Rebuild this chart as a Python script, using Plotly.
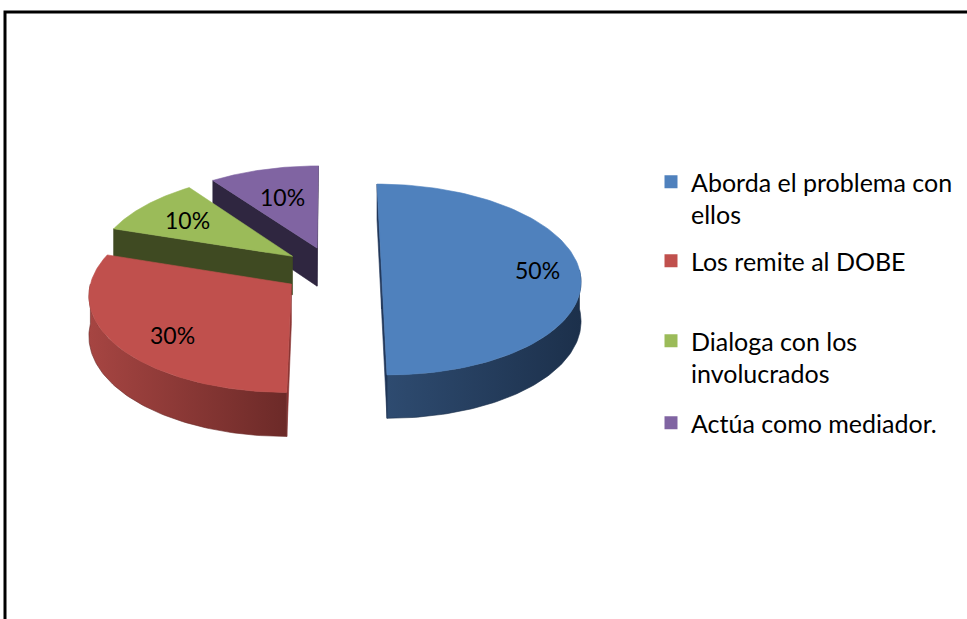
import numpy as np
import plotly.graph_objects as go

# Survey answers and their shares (%)
categories = ["Aborda el problema con<br>ellos", "Los remite al DOBE",
              "Dialoga con los<br>involucrados", "Actúa como mediador."]
values = [50, 30, 10, 10]

# Slice styling
top_colors = ["#4F81BD", "#C0504D", "#9BBB59", "#8064A2"]
wall_colors = [("#2E4B70", "#1C304B"), ("#A64542", "#6C2A28"),
               ("#3F4A22", "#3F4A22"), ("#2F2640", "#2F2640")]
face_colors = ["#22385A", "#8A3432", "#3F4A22", "#2F2640"]

# Canvas and 3-D pie geometry (pixel space)
W, H = 967, 619
CX, CY = 332, 270          # projected pie centre
RX, RY = 198, 94.5         # radii of the tilted disc
DEPTH = 39                 # thickness of the disc
PERSP = 0.1                # perspective strength (far side smaller)
EXPLODE = 0.25             # slice offset as a fraction of the radius
LABEL_R = [0.79, 0.74, 0.7, 0.63]
LABEL_SHIFT = [0, 6, 0, 0]  # degrees added to the label angle
FONT = "Lato"


def proj(X, Y, bottom=False):
    """Project disc coordinates (unit radius, Y pointing away) to pixels."""
    X = np.asarray(X, dtype=float)
    Y = np.asarray(Y, dtype=float)
    s = 1.0 / (1.0 + PERSP * Y)
    x = CX + s * RX * X
    y = CY - s * RY * Y + (DEPTH * s if bottom else 0.0)
    return x, y


def poly(x, y, color, gradient=None):
    tr = go.Scatter(x=list(x) + [x[0]], y=list(y) + [y[0]], mode="lines",
                    fill="toself", fillcolor=color,
                    line=dict(width=0.6, color=color),
                    hoverinfo="skip", showlegend=False)
    if gradient is not None:
        tr.update(fillgradient=dict(type="horizontal",
                                    colorscale=[[0, gradient[0]], [1, gradient[1]]]))
    return tr


total = float(sum(values))
starts = np.concatenate([[0.0], np.cumsum(values)[:-1]]) / total * 360.0
ends = np.cumsum(values) / total * 360.0

fig = go.Figure()

# paint from the back of the pie to the front
order = [3, 2, 1, 0]
for i in order:
    t1, t2 = starts[i], ends[i]
    mid = np.radians((t1 + t2) / 2)
    ox, oy = EXPLODE * np.sin(mid), EXPLODE * np.cos(mid)

    def rim(t_deg, bottom=False):
        t = np.radians(np.atleast_1d(t_deg))
        return proj(ox + np.sin(t), oy + np.cos(t), bottom)

    cxt, cyt = proj([ox], [oy])
    cxb, cyb = proj([ox], [oy], bottom=True)

    # radial cut faces that turn towards the viewer
    for t, visible in ((t1, np.sin(np.radians(t1)) <= 1e-9),
                       (t2, np.sin(np.radians(t2)) >= -1e-9)):
        if visible:
            rx_t, ry_t = rim(t)
            rx_b, ry_b = rim(t, bottom=True)
            fx = [cxt[0], rx_t[0], rx_b[0], cxb[0]]
            fy = [cyt[0], ry_t[0], ry_b[0], cyb[0]]
            fig.add_trace(poly(fx, fy, face_colors[i]))

    # outer wall on the front half
    a, b = max(t1, 90.0), min(t2, 270.0)
    if b > a:
        ts = np.linspace(a, b, 80)
        xt, yt = rim(ts)
        xb, yb = rim(ts[::-1], bottom=True)
        fig.add_trace(poly(np.concatenate([xt, xb]), np.concatenate([yt, yb]),
                           wall_colors[i][1], gradient=wall_colors[i]))

    # top surface
    ts = np.linspace(t1, t2, 120)
    xt, yt = rim(ts)
    fig.add_trace(poly(np.concatenate([cxt, xt]), np.concatenate([cyt, yt]),
                       top_colors[i]))

    # value label
    lab = mid - np.radians(LABEL_SHIFT[i])
    r = LABEL_R[i]
    lx, ly = proj([ox + r * np.sin(lab)], [oy + r * np.cos(lab)])
    fig.add_annotation(x=lx[0], y=ly[0], text=f"{values[i]}%", showarrow=False,
                       font=dict(family=FONT, size=23, color="black"))

# legend: one entry per block, each block placed on its own row
legend_rows = [183, 262, 342, 424]
legend_layout = {}
for i, name in enumerate(categories):
    key = "legend" if i == 0 else f"legend{i + 1}"
    fig.add_trace(go.Scatter(x=[None], y=[None], mode="markers", name=name,
                             marker=dict(symbol="square", size=13, color=top_colors[i]),
                             legend=key, showlegend=True))
    legend_layout[key] = dict(x=(671 - 20) / W, xanchor="left",
                              y=1 - (legend_rows[i] - 24) / H, yanchor="top",
                              bgcolor="rgba(0,0,0,0)", borderwidth=0,
                              valign="top",
                              font=dict(family=FONT, size=25, color="black"))

fig.update_layout(
    width=W, height=H,
    margin=dict(l=0, r=0, t=0, b=0),
    paper_bgcolor="white", plot_bgcolor="white",
    xaxis=dict(range=[0, W], visible=False, fixedrange=True),
    yaxis=dict(range=[H, 0], visible=False, fixedrange=True),
    shapes=[dict(type="rect", xref="x", yref="y", x0=5, y0=12, x1=W + 20, y1=H + 20,
                 line=dict(color="black", width=3), layer="above")],
    **legend_layout,
)

fig.write_html("out.html")
